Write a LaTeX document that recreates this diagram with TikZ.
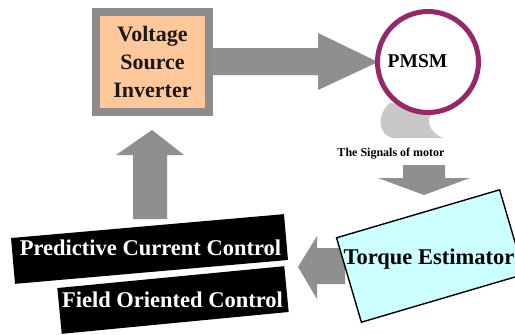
\documentclass[tikz,border=0pt]{standalone}
\usepackage{fontspec}
\setmainfont{Liberation Serif}
\definecolor{arrgray}{RGB}{143,143,143}
\definecolor{boxgray}{RGB}{140,140,140}
\definecolor{peach}{RGB}{255,200,155}
\definecolor{ringcol}{RGB}{150,40,105}
\definecolor{swooshgray}{RGB}{200,200,200}
\definecolor{cyanbox}{RGB}{204,255,255}
\tikzset{
  vsibox/.style={draw=boxgray, line width=8pt, fill=peach, inner sep=0pt, align=center,
    font=\fontsize{22}{28}\selectfont\bfseries, text=black!90},
  blockarrow/.style={fill=arrgray},
  motor/.style={circle, draw=ringcol, line width=5pt, fill=white, inner sep=0pt},
  motortext/.style={font=\fontsize{19.5}{22}\selectfont\bfseries, inner sep=0pt},
  tebox/.style={draw=black, line width=1.4pt, fill=cyanbox, inner sep=0pt},
  banner/.style={fill=black, inner sep=0pt},
  bigtext/.style={font=\fontsize{22.5}{26}\selectfont\bfseries, inner sep=0pt},
  bannertext/.style={bigtext, text=white},
  smalltext/.style={font=\fontsize{12}{14}\selectfont\bfseries, inner sep=0pt}
}
\begin{document}
\begin{tikzpicture}[x=1pt,y=-1pt]
\useasboundingbox (0,0) rectangle (515,335);
\fill[white] (0,0) rectangle (515,335);

% Voltage source inverter
\node[vsibox, minimum width=113pt, minimum height=100pt] (vsi) at (152.5,62) {Voltage\\Source\\Inverter};

% arrow VSI -> PMSM
\fill[blockarrow] (213,48) -- (318,48) -- (318,33) -- (378,62) -- (318,90) -- (318,75) -- (213,75) -- cycle;

% swoosh under motor
\fill[swooshgray] (390,103) -- (436,108)
  .. controls (424,118) and (428,132) .. (443,138)
  -- (393,138) .. controls (383,136) and (379,126) .. (381,118)
  .. controls (383,110) and (386,106) .. (390,103) -- cycle;

% PMSM
\node[motor, minimum size=101pt] (pmsm) at (428,62) {};
\node[motortext] (pmsmtext) at (417.5,61) {PMSM};

% label
\node[smalltext] (sig) at (391,154) {The Signals of motor};

% down arrow
\fill[blockarrow] (403,165) -- (445,165) -- (445,178) -- (470,178) -- (424,195) -- (378,178) -- (403,178) -- cycle;

% left arrow (under the estimator box)
\fill[blockarrow] (345,248) -- (317,248) -- (317,236) -- (298,267) -- (317,299) -- (317,284) -- (345,284) -- cycle;

% torque estimator
\node[tebox, minimum width=170pt, minimum height=88pt, rotate=16.4] (te) at (430.5,256) {};
\node[bigtext] (tetext) at (429,259) {Torque Estimator};

% up arrow
\fill[blockarrow] (133,219) -- (133,155) -- (116,155) -- (152,130) -- (184,155) -- (167,155) -- (167,219) -- cycle;

% banners
\node[banner, minimum width=274pt, minimum height=46pt, rotate=5] (b1) at (149.5,249) {};
\node[bannertext] (t1) at (150.5,248) {Predictive Current Control};
\node[banner, minimum width=228pt, minimum height=46pt, rotate=5.5] (b2) at (173,300) {};
\node[bannertext] (t2) at (172.5,300) {Field Oriented Control};
\end{tikzpicture}
\end{document}
